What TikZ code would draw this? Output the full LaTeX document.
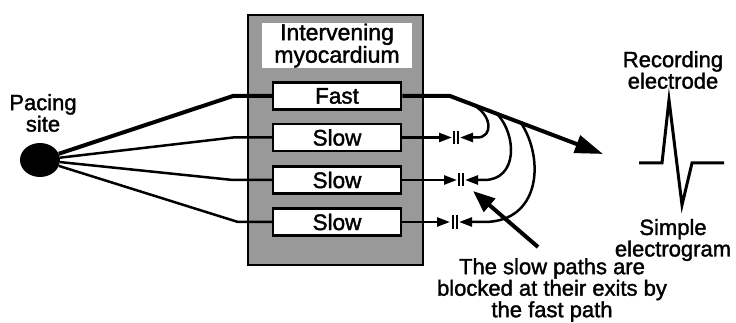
\documentclass[tikz,border=0pt]{standalone}
\usepackage{fontspec}
\setmainfont{Liberation Sans}[BoldFont={Liberation Sans},BoldFeatures={FakeBold=1.6}]
\usetikzlibrary{arrows.meta,shapes.geometric}
\begin{document}
\begin{tikzpicture}[x=1pt,y=-1pt,
  lbl/.style={font=\fontsize{22}{20.5}\selectfont\bfseries, align=center, inner sep=0pt},
  pathbox/.style={draw, line width=2.5pt, fill=white, minimum width=128pt, minimum height=27pt, inner sep=0pt, font=\fontsize{22.5}{22}\selectfont\bfseries},
  thickline/.style={line width=4pt, line join=miter},
  thinline/.style={line width=2.5pt, line join=round},
  smalltip/.style={-{Triangle[length=13pt,width=9pt]}},
  blockbar/.style={line width=1.8pt}
]
\useasboundingbox (0,0) rectangle (736,323);

% intervening myocardium
\node[draw, line width=2.8pt, fill=black!40, minimum width=175pt, minimum height=250pt, inner sep=0pt] (myo) at (335.5,140) {};
\node[fill=white, minimum width=150pt, minimum height=45pt, inner sep=0pt, font=\fontsize{23}{21}\selectfont\bfseries, align=center] (myolbl) at (337,45.5) {Intervening\\myocardium};

\node[pathbox] (fast) at (337,96) {Fast};
\node[pathbox] (s1) at (337,137.5) {Slow};
\node[pathbox] (s2) at (337,180) {Slow};
\node[pathbox] (s3) at (337,222) {Slow};

% pacing site
\node[ellipse, fill=black, minimum width=40pt, minimum height=34pt, inner sep=0pt] (pace) at (40,160) {};
\node[lbl] (pacelbl) at (43,113) {Pacing\\site};

\coordinate (lf) at (233,96);
\coordinate (l1) at (233,137.5);
\coordinate (l2) at (233,180);
\coordinate (l3) at (238,222);

\draw[thickline] (pace) -- (lf) -- (fast.west);
\draw[thinline] (pace) -- (l1) -- (s1.west);
\draw[thinline] (pace) -- (l2) -- (s2.west);
\draw[thinline] (pace) -- (l3) -- (s3.west);

% fast path exit
\coordinate (fb) at (450,96);
\coordinate (ftip) at (603,154);
\draw[thickline, -{Triangle[length=28pt,width=18pt]}] (fast.east) -- (fb) -- (ftip);

% slow exits with block
\coordinate (a1) at (452,137.5);
\coordinate (a2) at (457,180);
\coordinate (a3) at (450,222);
\draw[thinline, smalltip] (s1.east) -- (a1);
\draw[thinline, smalltip] (s2.east) -- (a2);
\draw[thinline, smalltip] (s3.east) -- (a3);

\draw[blockbar] (454,131) -- (454,144) (458,131) -- (458,144);
\draw[blockbar] (459,173.5) -- (459,186.5) (463,173.5) -- (463,186.5);
\draw[blockbar] (453,215.5) -- (453,228.5) (457,215.5) -- (457,228.5);

\coordinate (j1) at (472,104.3);
\coordinate (j2) at (497,113.8);
\coordinate (j3) at (521,122.9);
\coordinate (b1) at (460,137.5);
\coordinate (b2) at (465,180);
\coordinate (b3) at (459,222);

\draw[thinline, smalltip] (j1) .. controls (492,114) and (494,137.5) .. (477,137.5) -- (b1);
\draw[thinline, smalltip] (j2) .. controls (517,135) and (518,180) .. (484,180) -- (b2);
\draw[thinline, smalltip] (j3) .. controls (545,160) and (540,222) .. (484,222) -- (b3);

% pointer
\coordinate (ptail) at (538,247);
\coordinate (ptip) at (473,191);
\draw[line width=4pt, -{Triangle[length=22pt,width=17pt]}] (ptail) -- (ptip);

\node[lbl] (note) at (552,290) {The slow paths are\\blocked at their exits by\\the fast path};

% recording electrode
\node[lbl] (rec) at (673,70) {Recording\\electrode};
\draw[line width=3pt, line join=miter, miter limit=20] (639,163) -- (662,163) -- (669,100) -- (682,205) -- (692,163) -- (724,163);
\node[lbl] (egm) at (673,240) {Simple\\electrogram};
\end{tikzpicture}
\end{document}
